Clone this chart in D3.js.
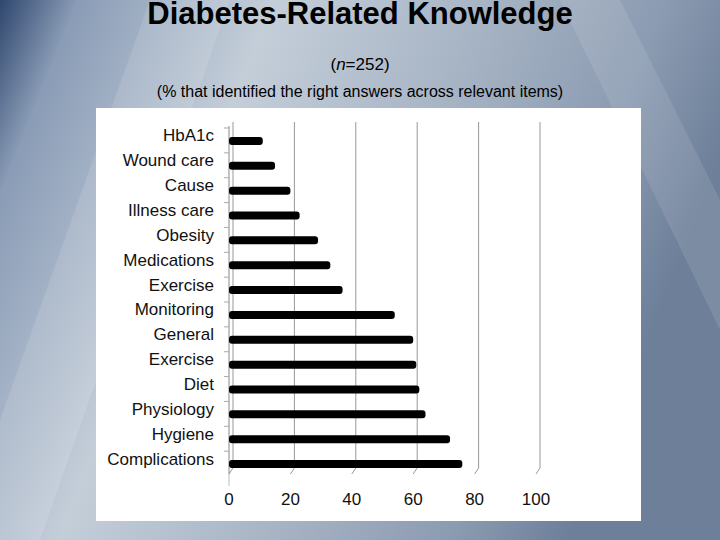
<!DOCTYPE html><html><head><meta charset="utf-8">
<script src="https://cdn.jsdelivr.net/npm/d3@7"></script>
<style>body{margin:0}svg{display:block}</style></head><body>
<script>
const categories=["HbA1c","Wound care","Cause","Illness care","Obesity","Medications","Exercise","Monitoring","General","Exercise","Diet","Physiology","Hygiene","Complications"];
const values=[11,15,20,23,29,33,37,54,60,61,62,64,72,76];
const ticks=[0,20,40,60,80,100];

const svg=d3.select("body").append("svg").attr("width",720).attr("height",540);
const defs=svg.append("defs");
const g1=defs.append("linearGradient").attr("id","bg").attr("x1",0).attr("y1",0).attr("x2",1).attr("y2",0.3);
[["0%","#2f476e"],["10%","#8a9cb6"],["35%","#c4ced9"],["60%","#a9b6c6"],["85%","#8b9bb1"],["100%","#6d7f99"]].forEach(s=>g1.append("stop").attr("offset",s[0]).attr("stop-color",s[1]));
svg.append("rect").attr("width",720).attr("height",540).attr("fill","url(#bg)");
svg.append("path").attr("d","M150,0 L230,0 L40,540 L0,540 L0,420Z").attr("fill","#ffffff").attr("opacity",0.12);
svg.append("path").attr("d","M560,0 L620,0 L720,200 L720,330Z").attr("fill","#ffffff").attr("opacity",0.1);

svg.append("text").attr("x",360).attr("y",24).attr("text-anchor","middle").attr("font-family","Liberation Sans, Arial").attr("font-size",31).attr("font-weight","bold").attr("fill","#000").text("Diabetes-Related Knowledge");
const st=svg.append("text").attr("x",360).attr("y",70).attr("text-anchor","middle").attr("font-family","Liberation Sans, Arial").attr("font-size",17).attr("fill","#000");
st.append("tspan").text("(");st.append("tspan").attr("font-style","italic").text("n");st.append("tspan").text("=252)");
svg.append("text").attr("x",360).attr("y",97).attr("text-anchor","middle").attr("font-family","Liberation Sans, Arial").attr("font-size",16).attr("fill","#000").text("(% that identified the right answers across relevant items)");

svg.append("rect").attr("x",96).attr("y",108).attr("width",545).attr("height",413).attr("fill","#fff");

const x=d3.scaleLinear().domain([0,100]).range([229,536]);
const y=d3.scaleBand().domain(categories.map((c,i)=>i)).range([128,476]);
const g=svg.append("g");
ticks.forEach(t=>{
  g.append("path").attr("d",`M${x(t)+4},122 L${x(t)+4},468 L${x(t)},474`).attr("fill","none").attr("stroke","#999").attr("stroke-width",1);
});
g.append("line").attr("x1",x(0)).attr("x2",x(0)).attr("y1",126).attr("y2",474).attr("stroke","#888");
categories.forEach((c,i)=>{g.append("line").attr("x1",x(0)-5).attr("x2",x(0)).attr("y1",y(i)).attr("y2",y(i)).attr("stroke","#aaa");});
g.append("line").attr("x1",x(0)).attr("x2",x(0)).attr("y1",474).attr("y2",486).attr("stroke","#bbb");
g.selectAll(".bar").data(values).join("rect").attr("x",x(0)).attr("y",(d,i)=>y(i)+y.bandwidth()/2-3.5)
 .attr("width",d=>x(d)-x(0)).attr("height",8).attr("rx",3).attr("fill","#000");
g.selectAll(".lab").data(categories).join("text").attr("x",214).attr("y",(d,i)=>y(i)+y.bandwidth()/2+1).attr("text-anchor","end")
 .attr("font-family","Liberation Sans, Arial").attr("font-size",17).attr("fill","#111").text(d=>d);
g.selectAll(".tk").data(ticks).join("text").attr("x",d=>x(d)).attr("y",505).attr("text-anchor","middle")
 .attr("font-family","Liberation Sans, Arial").attr("font-size",17).attr("fill","#111").text(d=>d);
</script></body></html>
